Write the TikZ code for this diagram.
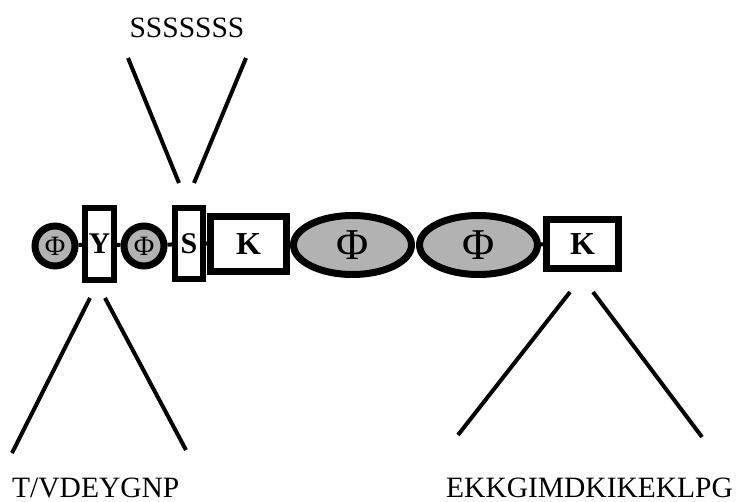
\documentclass[tikz,border=0pt]{standalone}
\usepackage{fontspec}
\setmainfont{Liberation Serif}
\usetikzlibrary{shapes.geometric}
\definecolor{domfill}{RGB}{178,178,178}
\tikzset{
  dom/.style={draw=black, line width=7pt, fill=domfill, inner sep=0pt},
  circdom/.style={dom, circle, minimum size=40pt, font=\fontsize{28}{28}\selectfont},
  elldom/.style={dom, ellipse, minimum width=118pt, minimum height=59pt, font=\fontsize{44}{44}\selectfont},
  boxdom/.style={draw=black, line width=6pt, fill=white, rectangle, inner sep=0pt, font=\bfseries\fontsize{30}{30}\selectfont},
  kbox/.style={draw=black, line width=7pt, fill=white, rectangle, inner sep=0pt, font=\bfseries\fontsize{32}{32}\selectfont},
  link/.style={line width=4pt},
  fan/.style={line width=4pt},
  seq/.style={inner sep=0pt, font=\fontsize{29.5}{30}\selectfont}
}
\begin{document}
\begin{tikzpicture}[x=1pt, y=-1pt]
\useasboundingbox (0,0) rectangle (738,502);
% domains
\node[circdom] (p1) at (55,246) {Φ};
\node[boxdom, minimum width=29pt, minimum height=72pt] (y) at (99.5,244) {Y};
\node[circdom] (p2) at (144,246) {Φ};
\node[boxdom, minimum width=28pt, minimum height=71pt] (s) at (189,243.5) {S};
\node[kbox, minimum width=76pt, minimum height=55pt] (k1) at (248.5,244) {K};
\node[elldom] (e1) at (352.5,245) {Φ};
\node[elldom] (e2) at (478.5,245) {Φ};
\node[kbox, minimum width=72pt, minimum height=49pt] (k2) at (582.5,244) {K};
% links
\draw[link] (p1) -- (y);
\draw[link] (y) -- (p2);
\draw[link] (p2) -- (s);
\draw[link] (s) -- (k1);
\draw[link] (e2) -- (k2);
% fan coordinates
\coordinate (ta) at (128,58);
\coordinate (tb) at (179,183);
\coordinate (tc) at (246,58);
\coordinate (td) at (194,183);
\coordinate (la) at (90,298);
\coordinate (lb) at (12,453);
\coordinate (lc) at (105,298);
\coordinate (ld) at (186,450);
\coordinate (ra) at (570,292);
\coordinate (rb) at (458,435);
\coordinate (rc) at (593,292);
\coordinate (rd) at (702,437);
\draw[fan] (ta) -- (tb);
\draw[fan] (tc) -- (td);
\draw[fan] (la) -- (lb);
\draw[fan] (lc) -- (ld);
\draw[fan] (ra) -- (rb);
\draw[fan] (rc) -- (rd);
% sequences
\node[seq, anchor=base] (sq1) at (187,38) {SSSSSSS};
\node[seq, anchor=base west] (sq2) at (12,497) {T/VDEYGNP};
\node[seq, anchor=base west] (sq3) at (446,497) {EKKGIMDKIKEKLPG};
\end{tikzpicture}
\end{document}
